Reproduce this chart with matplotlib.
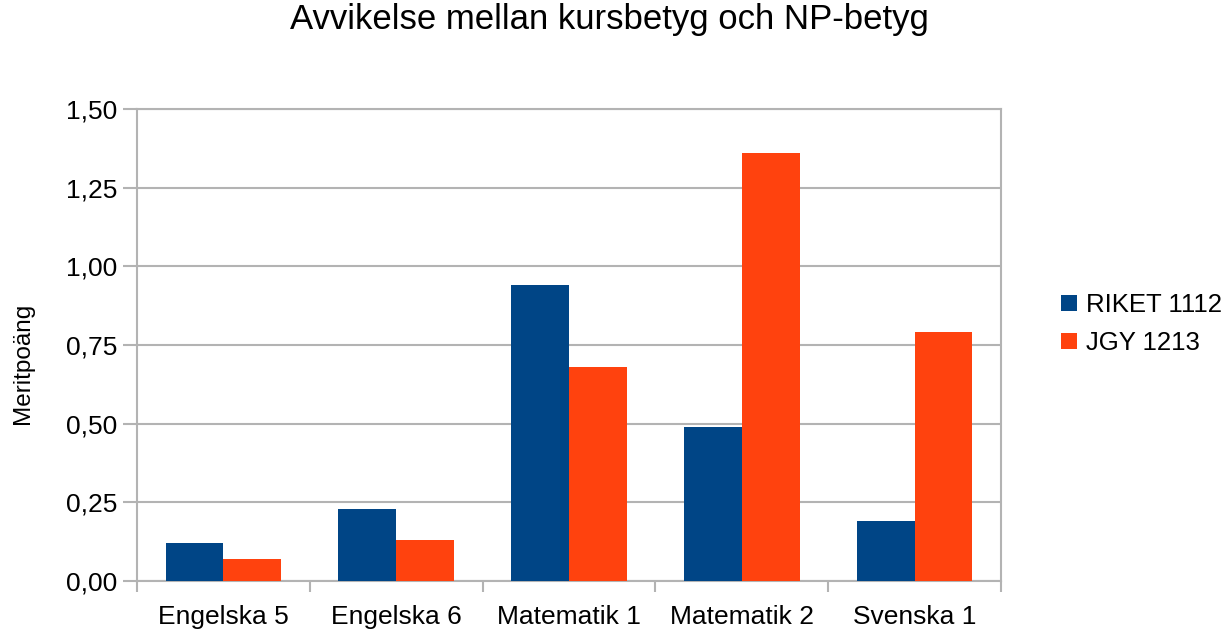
import matplotlib.pyplot as plt
import numpy as np

plt.rcParams['font.family'] = ['Liberation Sans', 'DejaVu Sans']

categories = ['Engelska 5', 'Engelska 6', 'Matematik 1', 'Matematik 2', 'Svenska 1']
riket = [0.12, 0.23, 0.94, 0.49, 0.19]
jgy = [0.07, 0.13, 0.68, 1.36, 0.79]
series_names = ['RIKET 1112', 'JGY 1213']
yticks = [0.0, 0.25, 0.5, 0.75, 1.0, 1.25, 1.5]
ytick_labels = ['0,00', '0,25', '0,50', '0,75', '1,00', '1,25', '1,50']

BLUE = '#004586'
ORANGE = '#ff420e'
GRID = '#b3b3b3'

fig = plt.figure(figsize=(12.31, 6.31), dpi=100)
ax = fig.add_axes([137 / 1231, 50 / 631, 864 / 1231, 472 / 631])

x = np.arange(len(categories))
w = 0.335
ax.bar(x - w / 2, riket, w, color=BLUE, label=series_names[0], zorder=3)
ax.bar(x + w / 2, jgy, w, color=ORANGE, label=series_names[1], zorder=3)

ax.set_xlim(-0.5, len(categories) - 0.5)
ax.set_ylim(0, 1.5)
ax.set_yticks(yticks)
ax.set_yticklabels(ytick_labels, fontsize=19)
ax.set_xticks(x)
ax.set_xticklabels(categories, fontsize=19)
ax.tick_params(axis='x', which='major', length=0, pad=17)
ax.set_xticks(np.arange(len(categories) + 1) - 0.5, minor=True)
ax.tick_params(axis='x', which='minor', length=8, color=GRID, width=1.5)
ax.tick_params(axis='y', length=10, color=GRID, width=1.5, pad=4)
ax.yaxis.grid(True, color=GRID, linewidth=1.5, zorder=0)
for s in ax.spines.values():
    s.set_color(GRID)
    s.set_linewidth(1.5)

fig.text(23 / 1231, 1 - 363 / 631, 'Meritpoäng', fontsize=17.5, rotation=90,
         ha='center', va='center')
fig.suptitle('Avvikelse mellan kursbetyg och NP-betyg', fontsize=25, y=0.995, x=0.495)

fig.legend(loc='center left', bbox_to_anchor=(1038 / 1231, 1 - 324 / 631),
           frameon=False, fontsize=18.5, handlelength=0.62, handleheight=0.62,
           handletextpad=0.35, labelspacing=0.55)

fig.savefig('out.png', dpi=100)
